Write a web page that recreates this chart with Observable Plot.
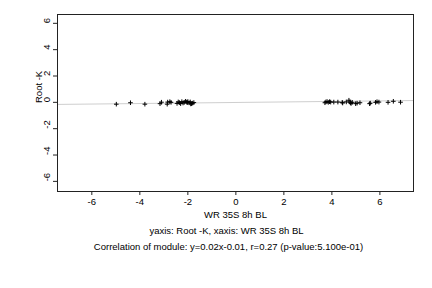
<!DOCTYPE html>
<html>
<head>
<meta charset="utf-8">
<script src="https://cdn.jsdelivr.net/npm/d3@7"></script>
<script src="https://cdn.jsdelivr.net/npm/@observablehq/plot@0.6"></script>
<style>
  html, body { margin: 0; padding: 0; background: #fff; }
  svg { font-family: "Liberation Sans", Arial, Helvetica, sans-serif; }
</style>
</head>
<body>
<div id="chart"></div>
<script>
// Data
const xValues = [
  -4.98, -4.39, -3.79, -3.16, -3.10, -2.86, -2.84, -2.75, -2.70, -2.45,
  -2.40, -2.35, -2.30, -2.25, -2.20, -2.15, -2.10, -2.05, -2.00, -1.95,
  -1.90, -1.85, -1.80, -1.75, -2.02, -1.88,
  3.71, 3.75, 3.80, 3.85, 3.90, 3.95, 4.08, 4.25, 4.43, 4.45,
  4.60, 4.71, 4.75, 4.78, 4.80, 4.85, 4.99, 5.05, 5.17, 5.57,
  5.60, 5.82, 5.88, 5.96, 6.34, 6.56, 6.86
];
const yValues = [
  -0.14, -0.03, -0.14, -0.10, 0.01, -0.14, 0.02, 0.05, 0.00, -0.08,
  0.03, -0.02, -0.10, 0.05, -0.05, 0.00, 0.08, 0.02, 0.06, -0.04,
  0.03, -0.10, -0.06, -0.02, -0.02, -0.12,
  -0.03, 0.03, 0.06, 0.00, 0.05, 0.02, 0.02, 0.02, 0.00, -0.05,
  0.03, 0.16, 0.02, -0.04, -0.08, 0.00, -0.10, -0.06, -0.03, -0.10,
  -0.06, 0.00, 0.05, 0.02, 0.00, 0.08, 0.01
];
const fitSlope = 0.02;
const fitIntercept = -0.01;
const xTicks = [-6, -4, -2, 0, 2, 4, 6];
const yTicks = [-6, -4, -2, 0, 2, 4, 6];
const xDomain = [-7.43, 7.4];
const yDomain = [-6.77, 6.67];
const xLabel = "WR 35S 8h BL";
const yLabel = "Root -K";
const captionLines = [
  "yaxis: Root -K, xaxis: WR 35S 8h BL",
  "Correlation of module: y=0.02x-0.01, r=0.27 (p-value:5.100e-01)"
];

const points = xValues.map((x, i) => ({x, y: yValues[i]}));
const fitLine = xDomain.map(x => ({x, y: fitSlope * x + fitIntercept}));

const chart = Plot.plot({
  width: 432,
  height: 288,
  marginLeft: 57,
  marginRight: 19,
  marginTop: 14,
  marginBottom: 97,
  style: {fontSize: "9.5px", fontFamily: "Liberation Sans, Arial, sans-serif", background: "#fff"},
  x: {domain: xDomain, axis: null},
  y: {domain: yDomain, axis: null},
  marks: [
    Plot.line(fitLine, {x: "x", y: "y", stroke: "#cfcfcf", strokeWidth: 1}),
    Plot.dot(points, {x: "x", y: "y", symbol: "plus", r: 1.6, stroke: "#000", strokeWidth: 1}),
    Plot.frame({stroke: "#222"}),
    Plot.axisX({ticks: xTicks, tickSize: 4, tickPadding: 3, tickFormat: d => String(d), label: null, stroke: "#222", fill: "#000"}),
    Plot.axisY({ticks: yTicks, tickSize: 4, tickFormat: () => "", label: null, stroke: "#222"}),
    Plot.text(yTicks, {y: d => d, frameAnchor: "left", dx: -11, rotate: -90, text: d => String(d), fill: "#000"}),
    Plot.text([yLabel], {frameAnchor: "left", dx: -19, rotate: -90, text: d => d, fill: "#000"}),
    Plot.text([xLabel], {frameAnchor: "bottom", dy: 26, text: d => d, fill: "#000"}),
    Plot.text([captionLines[0]], {frameAnchor: "bottom", dx: -9, dy: 42.5, text: d => d, fill: "#000"}),
    Plot.text([captionLines[1]], {frameAnchor: "bottom", dx: -7, dy: 58.5, text: d => d, fill: "#000"})
  ]
});
document.getElementById("chart").appendChild(chart);
</script>
</body>
</html>
